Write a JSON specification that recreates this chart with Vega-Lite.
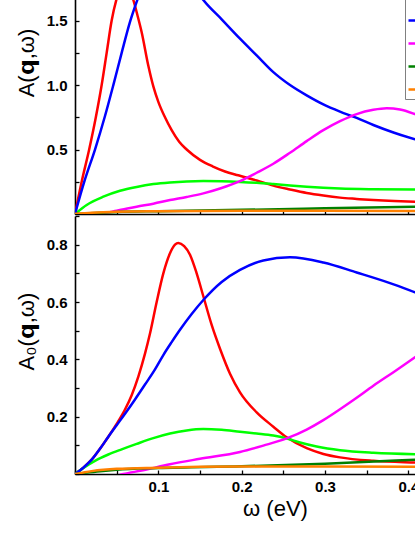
{
"$schema": "https://vega.github.io/schema/vega-lite/v6.json",
"padding": {"left": 15, "top": -89, "right": -58, "bottom": 5},
"config": {
 "view": {"stroke": null},
 "font": "Liberation Sans",
 "axis": {"domainColor": "#000", "domainWidth": 1.6, "tickColor": "#000", "tickWidth": 1.3, "tickSize": -4, "labelFont": "Liberation Sans", "labelFontWeight": "bold", "labelFontSize": 15, "labelColor": "#000", "titleFont": "Liberation Sans", "titleFontWeight": "normal", "titleFontSize": 22, "titleColor": "#000", "grid": false}
},
"datasets": {
"top": [
{"s":"q1","x":0,"y":0},{"s":"q1","x":0.008,"y":0.25},{"s":"q1","x":0.017,"y":0.5},{"s":"q1","x":0.025,"y":0.75},{"s":"q1","x":0.032,"y":1.0},{"s":"q1","x":0.038,"y":1.25},{"s":"q1","x":0.044,"y":1.5},{"s":"q1","x":0.05,"y":1.67},{"s":"q1","x":0.055,"y":1.76},{"s":"q1","x":0.06,"y":1.79},{"s":"q1","x":0.065,"y":1.75},{"s":"q1","x":0.07,"y":1.66},{"s":"q1","x":0.075,"y":1.54},{"s":"q1","x":0.08,"y":1.41},{"s":"q1","x":0.088,"y":1.15},{"s":"q1","x":0.094,"y":0.99},{"s":"q1","x":0.1,"y":0.87},{"s":"q1","x":0.108,"y":0.75},{"s":"q1","x":0.116,"y":0.65},{"s":"q1","x":0.125,"y":0.56},{"s":"q1","x":0.134,"y":0.5},{"s":"q1","x":0.15,"y":0.42},{"s":"q1","x":0.165,"y":0.37},{"s":"q1","x":0.18,"y":0.33},{"s":"q1","x":0.196,"y":0.3},{"s":"q1","x":0.218,"y":0.26},{"s":"q1","x":0.238,"y":0.22},{"s":"q1","x":0.258,"y":0.19},{"s":"q1","x":0.278,"y":0.163},{"s":"q1","x":0.298,"y":0.143},{"s":"q1","x":0.318,"y":0.127},{"s":"q1","x":0.338,"y":0.117},{"s":"q1","x":0.358,"y":0.108},{"s":"q1","x":0.383,"y":0.1},{"s":"q1","x":0.408,"y":0.095},{"s":"q1","x":0.43,"y":0.09},
{"s":"q2","x":0,"y":0},{"s":"q2","x":0.014,"y":0.07},{"s":"q2","x":0.034,"y":0.134},{"s":"q2","x":0.054,"y":0.18},{"s":"q2","x":0.074,"y":0.21},{"s":"q2","x":0.094,"y":0.232},{"s":"q2","x":0.114,"y":0.245},{"s":"q2","x":0.134,"y":0.253},{"s":"q2","x":0.154,"y":0.256},{"s":"q2","x":0.176,"y":0.254},{"s":"q2","x":0.198,"y":0.249},{"s":"q2","x":0.218,"y":0.242},{"s":"q2","x":0.238,"y":0.232},{"s":"q2","x":0.258,"y":0.221},{"s":"q2","x":0.278,"y":0.211},{"s":"q2","x":0.298,"y":0.203},{"s":"q2","x":0.318,"y":0.197},{"s":"q2","x":0.358,"y":0.192},{"s":"q2","x":0.408,"y":0.19},{"s":"q2","x":0.43,"y":0.19},
{"s":"q3","x":0,"y":0},{"s":"q3","x":0.0116,"y":0.26},{"s":"q3","x":0.024,"y":0.5},{"s":"q3","x":0.036,"y":0.76},{"s":"q3","x":0.046,"y":1.0},{"s":"q3","x":0.056,"y":1.25},{"s":"q3","x":0.066,"y":1.49},{"s":"q3","x":0.077,"y":1.7},{"s":"q3","x":0.085,"y":1.84},{"s":"q3","x":0.093,"y":1.93},{"s":"q3","x":0.1,"y":1.97},{"s":"q3","x":0.108,"y":1.98},{"s":"q3","x":0.116,"y":1.96},{"s":"q3","x":0.125,"y":1.91},{"s":"q3","x":0.135,"y":1.83},{"s":"q3","x":0.145,"y":1.74},{"s":"q3","x":0.154,"y":1.66},{"s":"q3","x":0.176,"y":1.51},{"s":"q3","x":0.198,"y":1.36},{"s":"q3","x":0.218,"y":1.23},{"s":"q3","x":0.238,"y":1.1},{"s":"q3","x":0.258,"y":1.0},{"s":"q3","x":0.278,"y":0.92},{"s":"q3","x":0.298,"y":0.85},{"s":"q3","x":0.318,"y":0.794},{"s":"q3","x":0.338,"y":0.745},{"s":"q3","x":0.358,"y":0.69},{"s":"q3","x":0.383,"y":0.63},{"s":"q3","x":0.408,"y":0.58},{"s":"q3","x":0.43,"y":0.55},
{"s":"q4","x":0,"y":0},{"s":"q4","x":0.03,"y":0.004},{"s":"q4","x":0.05,"y":0.025},{"s":"q4","x":0.074,"y":0.057},{"s":"q4","x":0.094,"y":0.08},{"s":"q4","x":0.114,"y":0.108},{"s":"q4","x":0.134,"y":0.132},{"s":"q4","x":0.154,"y":0.16},{"s":"q4","x":0.175,"y":0.2},{"s":"q4","x":0.198,"y":0.255},{"s":"q4","x":0.218,"y":0.32},{"s":"q4","x":0.238,"y":0.39},{"s":"q4","x":0.258,"y":0.475},{"s":"q4","x":0.278,"y":0.565},{"s":"q4","x":0.298,"y":0.65},{"s":"q4","x":0.318,"y":0.72},{"s":"q4","x":0.338,"y":0.775},{"s":"q4","x":0.358,"y":0.808},{"s":"q4","x":0.374,"y":0.82},{"s":"q4","x":0.39,"y":0.81},{"s":"q4","x":0.408,"y":0.775},{"s":"q4","x":0.43,"y":0.72},
{"s":"q5","x":0,"y":0},{"s":"q5","x":0.03,"y":0.01},{"s":"q5","x":0.05,"y":0.016},{"s":"q5","x":0.1,"y":0.022},{"s":"q5","x":0.15,"y":0.027},{"s":"q5","x":0.2,"y":0.032},{"s":"q5","x":0.3,"y":0.044},{"s":"q5","x":0.408,"y":0.057},{"s":"q5","x":0.43,"y":0.06},
{"s":"q6","x":0,"y":0},{"s":"q6","x":0.02,"y":0.01},{"s":"q6","x":0.05,"y":0.018},{"s":"q6","x":0.1,"y":0.022},{"s":"q6","x":0.2,"y":0.025},{"s":"q6","x":0.3,"y":0.025},{"s":"q6","x":0.43,"y":0.024}
],
"bottom": [
{"s":"q1","x":0,"y":0},{"s":"q1","x":0.01,"y":0.022},{"s":"q1","x":0.02,"y":0.05},{"s":"q1","x":0.03,"y":0.088},{"s":"q1","x":0.04,"y":0.13},{"s":"q1","x":0.05,"y":0.175},{"s":"q1","x":0.06,"y":0.225},{"s":"q1","x":0.068,"y":0.275},{"s":"q1","x":0.076,"y":0.34},{"s":"q1","x":0.084,"y":0.42},{"s":"q1","x":0.09,"y":0.49},{"s":"q1","x":0.098,"y":0.6},{"s":"q1","x":0.106,"y":0.7},{"s":"q1","x":0.114,"y":0.77},{"s":"q1","x":0.12,"y":0.8},{"s":"q1","x":0.124,"y":0.806},{"s":"q1","x":0.131,"y":0.795},{"s":"q1","x":0.138,"y":0.765},{"s":"q1","x":0.146,"y":0.7},{"s":"q1","x":0.154,"y":0.62},{"s":"q1","x":0.164,"y":0.52},{"s":"q1","x":0.174,"y":0.437},{"s":"q1","x":0.186,"y":0.35},{"s":"q1","x":0.198,"y":0.285},{"s":"q1","x":0.218,"y":0.215},{"s":"q1","x":0.238,"y":0.165},{"s":"q1","x":0.254,"y":0.128},{"s":"q1","x":0.278,"y":0.09},{"s":"q1","x":0.298,"y":0.07},{"s":"q1","x":0.318,"y":0.058},{"s":"q1","x":0.358,"y":0.046},{"s":"q1","x":0.408,"y":0.04},{"s":"q1","x":0.43,"y":0.038},
{"s":"q2","x":0,"y":0},{"s":"q2","x":0.012,"y":0.025},{"s":"q2","x":0.024,"y":0.046},{"s":"q2","x":0.04,"y":0.068},{"s":"q2","x":0.056,"y":0.086},{"s":"q2","x":0.074,"y":0.105},{"s":"q2","x":0.094,"y":0.125},{"s":"q2","x":0.114,"y":0.141},{"s":"q2","x":0.134,"y":0.152},{"s":"q2","x":0.154,"y":0.157},{"s":"q2","x":0.176,"y":0.154},{"s":"q2","x":0.198,"y":0.147},{"s":"q2","x":0.218,"y":0.141},{"s":"q2","x":0.238,"y":0.134},{"s":"q2","x":0.254,"y":0.124},{"s":"q2","x":0.27,"y":0.11},{"s":"q2","x":0.29,"y":0.096},{"s":"q2","x":0.318,"y":0.083},{"s":"q2","x":0.358,"y":0.074},{"s":"q2","x":0.408,"y":0.069},{"s":"q2","x":0.43,"y":0.068},
{"s":"q3","x":0,"y":0},{"s":"q3","x":0.01,"y":0.022},{"s":"q3","x":0.02,"y":0.05},{"s":"q3","x":0.03,"y":0.088},{"s":"q3","x":0.04,"y":0.13},{"s":"q3","x":0.05,"y":0.17},{"s":"q3","x":0.06,"y":0.21},{"s":"q3","x":0.072,"y":0.26},{"s":"q3","x":0.084,"y":0.312},{"s":"q3","x":0.096,"y":0.365},{"s":"q3","x":0.106,"y":0.415},{"s":"q3","x":0.116,"y":0.46},{"s":"q3","x":0.126,"y":0.503},{"s":"q3","x":0.14,"y":0.558},{"s":"q3","x":0.154,"y":0.607},{"s":"q3","x":0.176,"y":0.67},{"s":"q3","x":0.198,"y":0.712},{"s":"q3","x":0.226,"y":0.745},{"s":"q3","x":0.258,"y":0.756},{"s":"q3","x":0.298,"y":0.738},{"s":"q3","x":0.338,"y":0.703},{"s":"q3","x":0.378,"y":0.666},{"s":"q3","x":0.408,"y":0.634},{"s":"q3","x":0.43,"y":0.61},
{"s":"q4","x":0.04,"y":-0.015},{"s":"q4","x":0.058,"y":0},{"s":"q4","x":0.08,"y":0.012},{"s":"q4","x":0.114,"y":0.034},{"s":"q4","x":0.15,"y":0.053},{"s":"q4","x":0.198,"y":0.077},{"s":"q4","x":0.226,"y":0.099},{"s":"q4","x":0.254,"y":0.124},{"s":"q4","x":0.278,"y":0.155},{"s":"q4","x":0.298,"y":0.188},{"s":"q4","x":0.318,"y":0.226},{"s":"q4","x":0.338,"y":0.266},{"s":"q4","x":0.358,"y":0.308},{"s":"q4","x":0.383,"y":0.357},{"s":"q4","x":0.408,"y":0.407},{"s":"q4","x":0.43,"y":0.45},
{"s":"q5","x":0,"y":0},{"s":"q5","x":0.03,"y":0.01},{"s":"q5","x":0.05,"y":0.015},{"s":"q5","x":0.1,"y":0.021},{"s":"q5","x":0.2,"y":0.027},{"s":"q5","x":0.3,"y":0.036},{"s":"q5","x":0.408,"y":0.05},{"s":"q5","x":0.43,"y":0.053},
{"s":"q6","x":0,"y":0},{"s":"q6","x":0.02,"y":0.01},{"s":"q6","x":0.05,"y":0.018},{"s":"q6","x":0.1,"y":0.022},{"s":"q6","x":0.15,"y":0.025},{"s":"q6","x":0.2,"y":0.026},{"s":"q6","x":0.3,"y":0.026},{"s":"q6","x":0.408,"y":0.025},{"s":"q6","x":0.43,"y":0.024}
]
},
"spacing": 0,
"resolve": {"legend": {"color": "independent"}},
"vconcat": [
{
 "width": 400, "height": 303,
 "data": {"name": "top"},
 "mark": {"type": "line", "strokeWidth": 2.5, "interpolate": "monotone", "clip": true},
 "encoding": {
  "x": {"field": "x", "type": "quantitative", "scale": {"domain": [0, 0.48]},
        "axis": {"values": [0,0.05,0.1,0.15,0.2,0.25,0.3,0.35,0.4,0.45], "labels": false, "title": null}},
  "y": {"field": "y", "type": "quantitative", "scale": {"domain": [0, 2.35]},
        "axis": {"values": [0,0.25,0.5,0.75,1,1.25,1.5,1.75,2,2.25], "labelExpr": "datum.value > 0.01 && round(datum.value*4) % 2 == 0 ? format(datum.value, '.1f') : ''", "labelPadding": 12, "title": "A(𝗾,ω)", "titlePadding": 8}},
  "color": {"field": "s", "type": "nominal",
        "scale": {"domain": ["q1","q2","q3","q4","q5","q6"], "range": ["#ff0000","#00ff00","#0000ff","#ff00ff","#008000","#ff8000"]},
        "legend": {"orient": "none", "legendX": 330, "legendY": 52, "title": null, "symbolType": "stroke", "symbolSize": 256, "symbolStrokeWidth": 2.5, "labelFontSize": 14, "padding": 2, "rowPadding": 6, "strokeColor": "#808080", "fillColor": "#ffffff"}}
 }
},
{
 "width": 400, "height": 258,
 "data": {"name": "bottom"},
 "mark": {"type": "line", "strokeWidth": 2.5, "interpolate": "monotone", "clip": true},
 "encoding": {
  "x": {"field": "x", "type": "quantitative", "scale": {"domain": [0, 0.48]},
        "axis": {"values": [0,0.05,0.1,0.15,0.2,0.25,0.3,0.35,0.4,0.45], "labelExpr": "datum.value > 0.01 && round(datum.value*20) % 2 == 0 ? format(datum.value, '.1f') : ''", "labelPadding": 9, "title": "ω (eV)", "titlePadding": 4}},
  "y": {"field": "y", "type": "quantitative", "scale": {"domain": [0, 0.9]},
        "axis": {"values": [0,0.1,0.2,0.3,0.4,0.5,0.6,0.7,0.8,0.9], "labelExpr": "datum.value > 0.01 && round(datum.value*10) % 2 == 0 ? format(datum.value, '.1f') : ''", "labelPadding": 12, "title": "A₀(𝗾,ω)", "titlePadding": 8, "titleY": 115}},
  "color": {"field": "s", "type": "nominal", "legend": null}
 }
}
]
}
